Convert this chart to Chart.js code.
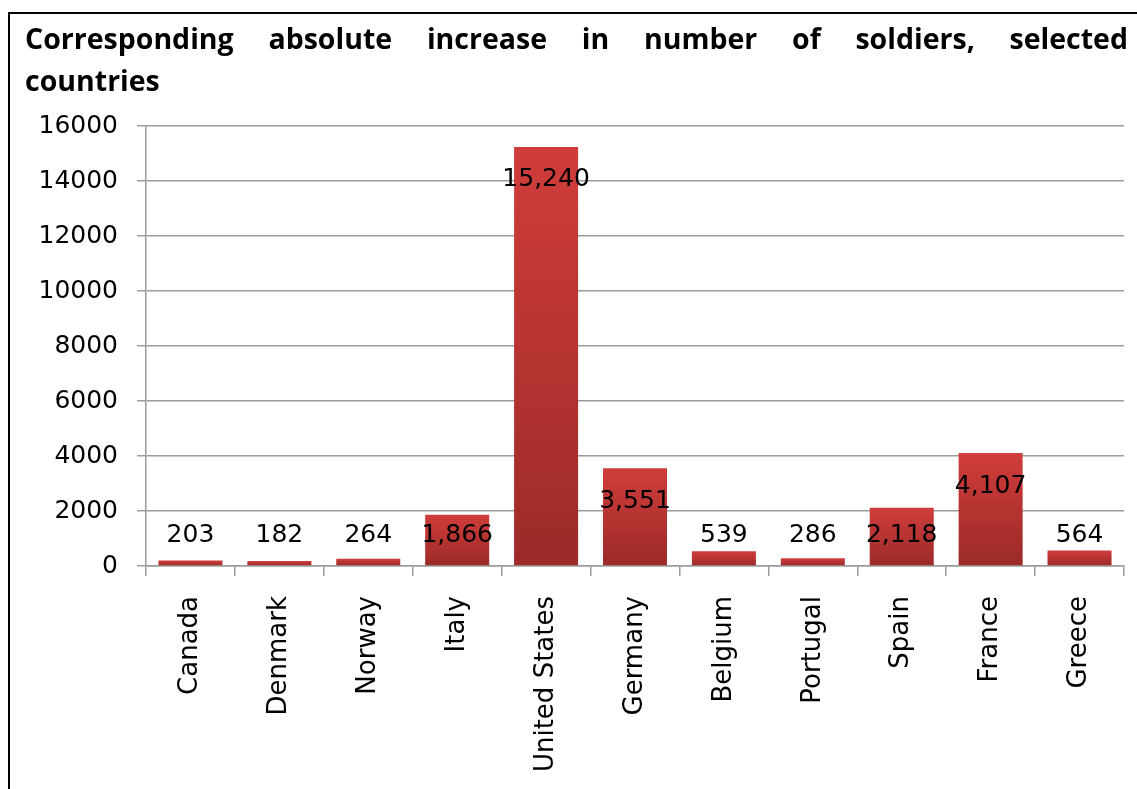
<!DOCTYPE html>
<html>
<head>
<meta charset="utf-8">
<script src="https://cdn.jsdelivr.net/npm/chart.js@4/dist/chart.umd.min.js"></script>
<style>
  html, body {
    margin: 0;
    padding: 0;
    background: #fff;
  }
  #frame {
    position: relative;
    width: 1137px;
    height: 789px;
    overflow: hidden;
  }
  #frame::before {
    content: "";
    position: absolute;
    left: 8px;
    top: 12px;
    right: 0;
    bottom: 0;
    border-left: 2.5px solid #000;
    border-top: 2.5px solid #000;
  }
  #chart {
    position: absolute;
    left: 0;
    top: 0;
  }
  .title {
    position: absolute;
    left: 25px;
    top: 17px;
    width: 1103px;
    font-family: "Open Sans", sans-serif;
    font-weight: bold;
    font-size: 28.5px;
    line-height: 42px;
    color: #000;
  }
  .title .spread {
    display: flex;
    justify-content: space-between;
  }
</style>
</head>
<body>
<div id="frame">
  <canvas id="chart" width="1137" height="789"></canvas>
  <div class="title">
    <div class="spread">
      <span>Corresponding</span><span>absolute</span><span>increase</span><span>in</span><span>number</span><span>of</span><span>soldiers,</span><span>selected</span>
    </div>
    <div>countries</div>
  </div>
</div>
<script>
const countries = [
  "Canada", "Denmark", "Norway", "Italy", "United States", "Germany",
  "Belgium", "Portugal", "Spain", "France", "Greece",
];
const soldierIncrease = [203, 182, 264, 1866, 15240, 3551, 539, 286, 2118, 4107, 564];
const yTicks = [0, 2000, 4000, 6000, 8000, 10000, 12000, 14000, 16000];

const FONT = "'DejaVu Sans', sans-serif";
const GRID = "#9c9c9c";

// vertical gradient for each bar, lighter at the top
function barGradient(context) {
  const chart = context.chart;
  const yScale = chart.scales.y;
  if (!yScale || context.type !== "data") return "#c03634";
  const top = yScale.getPixelForValue(context.raw);
  const bottom = yScale.getPixelForValue(0);
  if (!isFinite(top) || !isFinite(bottom) || top === bottom) return "#c03634";
  const g = chart.ctx.createLinearGradient(0, top, 0, bottom);
  g.addColorStop(0, "#d03d3b");
  g.addColorStop(1, "#9b2a28");
  return g;
}

const valueLabels = {
  id: "valueLabels",
  afterDatasetsDraw(chart) {
    const ctx = chart.ctx;
    const meta = chart.getDatasetMeta(0);
    ctx.save();
    ctx.font = "25px " + FONT;
    ctx.fillStyle = "#000";
    ctx.textAlign = "center";
    ctx.textBaseline = "middle";
    meta.data.forEach((bar, i) => {
      const labelY = Math.min(bar.y + 33, bar.base - 30);
      ctx.fillText(soldierIncrease[i].toLocaleString("en-US"), bar.x, labelY);
    });
    ctx.restore();
  },
};

new Chart(document.getElementById("chart"), {
  type: "bar",
  data: {
    labels: countries,
    datasets: [
      {
        data: soldierIncrease,
        backgroundColor: barGradient,
        borderWidth: 0,
        barPercentage: 0.72,
        categoryPercentage: 1,
      },
    ],
  },
  options: {
    responsive: false,
    animation: false,
    layout: {
      padding: { top: 126, right: 13, left: 0, bottom: 0 },
    },
    plugins: {
      legend: { display: false },
      tooltip: { enabled: false },
    },
    scales: {
      x: {
        grid: {
          offset: true,
          drawOnChartArea: false,
          drawTicks: true,
          tickLength: 10,
          color: GRID,
          lineWidth: 1.5,
        },
        border: { color: GRID, width: 1.5 },
        ticks: {
          minRotation: 90,
          maxRotation: 90,
          padding: 20,
          color: "#000",
          font: { family: FONT, size: 26 },
        },
        afterFit(scale) {
          scale.height = 223;
        },
      },
      y: {
        min: 0,
        max: 16000,
        afterBuildTicks(scale) {
          scale.ticks = yTicks.map((v) => ({ value: v }));
        },
        grid: {
          color: GRID,
          lineWidth: 1.5,
          tickLength: 9,
        },
        border: { color: GRID, width: 1.5 },
        ticks: {
          padding: 19,
          color: "#000",
          font: { family: FONT, size: 25 },
          callback: (value) => String(value),
        },
        afterFit(scale) {
          scale.width = 146;
        },
      },
    },
  },
  plugins: [valueLabels],
});
</script>
</body>
</html>
